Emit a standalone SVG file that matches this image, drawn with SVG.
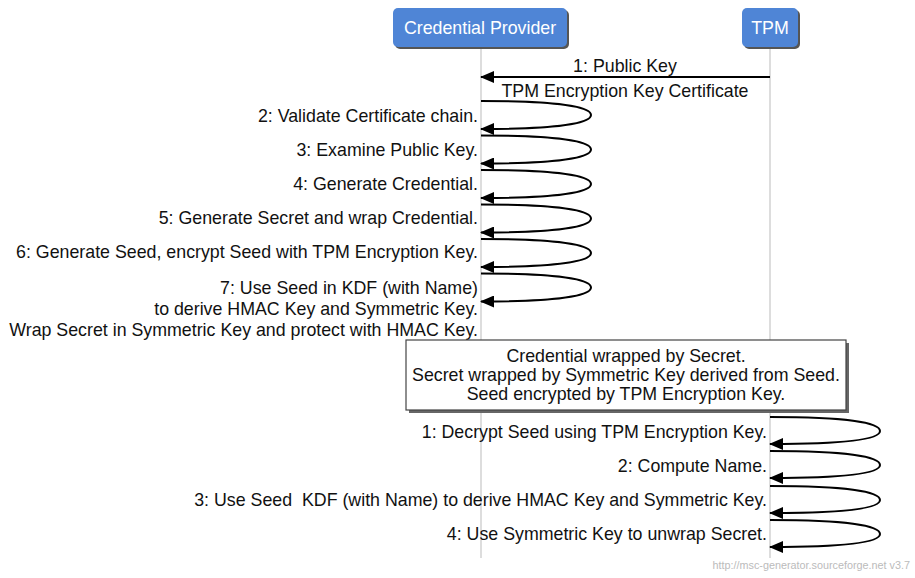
<svg xmlns="http://www.w3.org/2000/svg" width="915" height="578" viewBox="0 0 915 578">
<defs>
<style>
text{font-family:"Liberation Sans",Arial,sans-serif;font-size:17.8px;fill:#111}
.ent{fill:#4f85d6}
.shd{fill:#555}
.ent-t{fill:#fff;font-size:17.8px;text-anchor:middle}
.life{stroke:#bbb;stroke-width:1;fill:none}
.arr{stroke:#000;stroke-width:2;fill:none;marker-end:url(#ah)}
.lbl{text-anchor:end}
.mid{text-anchor:middle}
.foot{font-size:10.8px;fill:#bbb;text-anchor:end}
</style>
<marker id="ah" viewBox="0 0 14 12" refX="13" refY="6" markerWidth="14" markerHeight="12" markerUnits="userSpaceOnUse" orient="auto">
<path d="M0,0 L14,6 L0,12 z" fill="#000"/>
</marker>
</defs>
<rect width="915" height="578" fill="#fff"/>
<g id="lifelines">
<line class="life" x1="481" y1="48" x2="481" y2="558"/>
<line class="life" x1="770" y1="48" x2="770" y2="558"/>
</g>
<g id="credential-provider">
<rect class="shd" x="395" y="10" width="174" height="39" rx="5"/>
<rect class="ent" x="393" y="8" width="174" height="39" rx="5"/>
<text class="ent-t" x="480" y="34">Credential Provider</text>
</g>
<g id="tpm">
<rect class="shd" x="744" y="10" width="56" height="39" rx="5"/>
<rect class="ent" x="742" y="8" width="56" height="39" rx="5"/>
<text class="ent-t" x="770" y="34">TPM</text>
</g>
<g id="connectors">
<line class="arr" x1="770" y1="77" x2="481" y2="77"/>
<path class="arr" d="M481,101 C560,101 591,107 591,115 C591,123 560,129 481,129"/>
<path class="arr" d="M481,135.5 C560,135.5 591,141.5 591,149.5 C591,157.5 560,163.5 481,163.5"/>
<path class="arr" d="M481,170 C560,170 591,176 591,184 C591,192 560,198 481,198"/>
<path class="arr" d="M481,204.5 C560,204.5 591,210.5 591,218.5 C591,226.5 560,232.5 481,232.5"/>
<path class="arr" d="M481,239 C560,239 591,245 591,253 C591,261 560,267 481,267"/>
<path class="arr" d="M481,273.5 C560,273.5 591,279.5 591,287.5 C591,295.5 560,301.5 481,301.5"/>
<path class="arr" d="M770,417 C849,417 880,423 880,431 C880,439 849,444 770,444"/>
<path class="arr" d="M770,451 C849,451 880,457 880,465 C880,473 849,478 770,478"/>
<path class="arr" d="M770,486 C849,486 880,492 880,500 C880,508 849,513 770,513"/>
<path class="arr" d="M770,520 C849,520 880,526 880,534 C880,542 849,547 770,547"/>
</g>
<g id="labels">
<text class="mid" x="625" y="72">1: Public Key</text>
<text class="mid" x="625" y="97">TPM Encryption Key Certificate</text>
<text class="lbl" x="478" y="122">2: Validate Certificate chain.</text>
<text class="lbl" x="478" y="156">3: Examine Public Key.</text>
<text class="lbl" x="478" y="190">4: Generate Credential.</text>
<text class="lbl" x="478" y="224">5: Generate Secret and wrap Credential.</text>
<text class="lbl" x="478" y="258">6: Generate Seed, encrypt Seed with TPM Encryption Key.</text>
<text class="lbl" x="478" y="294">7: Use Seed in KDF (with Name)</text>
<text class="lbl" x="478" y="315">to derive HMAC Key and Symmetric Key.</text>
<text class="lbl" x="478" y="336">Wrap Secret in Symmetric Key and protect with HMAC Key.</text>
<text class="lbl" x="767" y="438">1: Decrypt Seed using TPM Encryption Key.</text>
<text class="lbl" x="767" y="472">2: Compute Name.</text>
<text class="lbl" x="767" y="506">3: Use Seed&#160; KDF (with Name) to derive HMAC Key and Symmetric Key.</text>
<text class="lbl" x="767" y="540">4: Use Symmetric Key to unwrap Secret.</text>
</g>
<g id="note">
<rect x="409" y="343" width="440" height="70" fill="#666"/>
<rect x="406" y="340" width="440" height="70" fill="#fff" stroke="#444" stroke-width="1.2"/>
<text class="mid" x="626" y="362">Credential wrapped by Secret.</text>
<text class="mid" x="626" y="381">Secret wrapped by Symmetric Key derived from Seed.</text>
<text class="mid" x="626" y="400">Seed encrypted by TPM Encryption Key.</text>
</g>
<text class="foot" x="910" y="569">http://msc-generator.sourceforge.net v3.7</text>
</svg>
